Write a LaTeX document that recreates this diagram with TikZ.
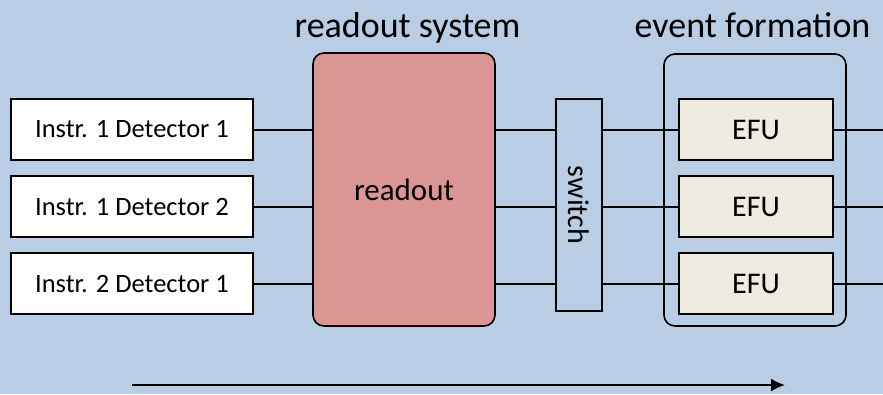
\documentclass[tikz,border=0pt]{standalone}
\usepackage{fontspec}
\setmainfont{Carlito}
\usetikzlibrary{arrows.meta,positioning}
\definecolor{bgblue}{HTML}{B9CDE5}
\definecolor{readoutred}{HTML}{D99694}
\definecolor{efucream}{HTML}{EEECE1}

\begin{document}
\begin{tikzpicture}[x=1pt, y=-1pt, >=Latex, node distance=14.5pt]
        \tikzset{detbox/.style={rectangle, draw, line width=1.6pt, fill=white, inner sep=0pt, minimum width=242pt, minimum height=61pt, font=\fontsize{26.5}{30}\selectfont}}
        \tikzset{efubox/.style={rectangle, draw, line width=1.6pt, fill=efucream, inner sep=0pt, minimum width=154pt, minimum height=61pt, font=\fontsize{30}{34}\selectfont}}
        \tikzset{wire/.style={line width=2pt}}
        \tikzset{title/.style={anchor=base, inner sep=0pt, font=\fontsize{36}{40}\selectfont}}
        \fill[bgblue] (0,0) rectangle (883,394);
        \useasboundingbox (0,0) rectangle (883,394);
        % detectors
        \node[detbox] (det1) at (132,129.5) {Instr. 1 Detector 1};
        \node[detbox, below=of det1] (det2) {Instr. 1 Detector 2};
        \node[detbox, below=of det2] (det3) {Instr. 2 Detector 1};
        % readout system
        \node[rectangle, draw, line width=1.6pt, rounded corners=11pt, fill=readoutred, minimum width=182pt, minimum height=273pt, font=\fontsize{31}{34}\selectfont] (ro) at (404,189.5) {readout};
        \node[title] (rotitle) at (407.5,37) {readout system};
        % switch
        \node[rectangle, draw, line width=1.6pt, inner sep=0pt, minimum width=46pt, minimum height=212pt, font=\fontsize{30}{34}\selectfont] (sw) at (579,205) {\rotatebox{-90}{switch}};
        % event formation
        \node[rectangle, draw, line width=1.6pt, rounded corners=11pt, minimum width=182pt, minimum height=272pt] (evf) at (755,190) {};
        \node[title] (evftitle) at (752.5,37) {event formation};
        \node[efubox] (efu1) at (756,129.5) {EFU};
        \node[efubox, below=of efu1] (efu2) {EFU};
        \node[efubox, below=of efu2] (efu3) {EFU};
        \foreach \i in {1,2,3} {
            \coordinate (out\i) at (883,0 |- det\i);
            \draw[wire] (det\i) -- (det\i -| ro.west);
            \draw[wire] (ro.east |- det\i) -- (sw.west |- det\i);
            \draw[wire] (sw.east |- det\i) -- (efu\i);
            \draw[wire] (efu\i) -- (out\i);
        }
        % data flow
        \coordinate (flowstart) at (132,385);
        \coordinate (flowend) at (785,385);
        \draw[->, wire, arrows={-Latex[length=14pt, width=13pt]}] (flowstart) -- (flowend);
    \end{tikzpicture}
\end{document}
